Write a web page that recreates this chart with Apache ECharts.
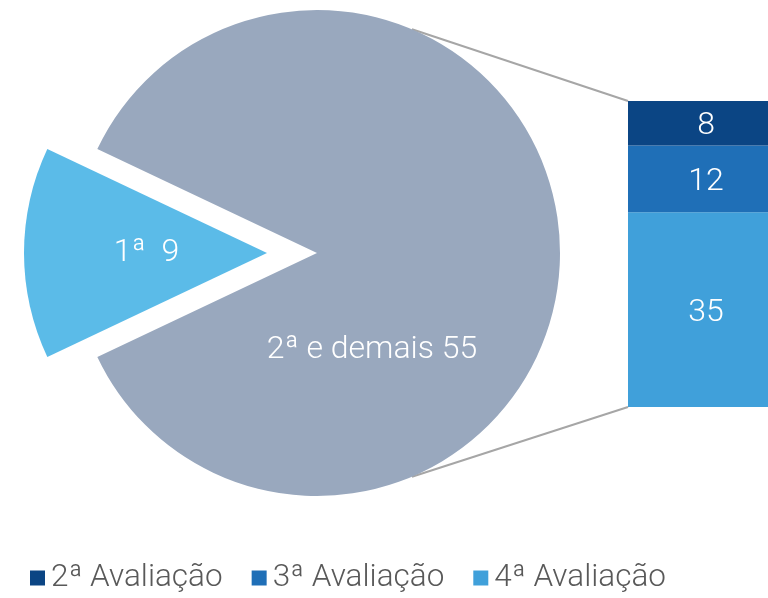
<!DOCTYPE html>
<html>
<head>
<meta charset="utf-8">
<script src="https://cdn.jsdelivr.net/npm/echarts@6/dist/echarts.min.js"></script>
<style>
  html, body { margin: 0; padding: 0; background: #fff; }
  #chart { width: 768px; height: 598px; }
</style>
</head>
<body>
<div id="chart"></div>
<script>
// pie: first evaluation vs the rest
const pieNames = ['1ª', '2ª e demais'];
const pieValues = [9, 55];
// bar: breakdown of "2ª e demais"
const barNames = ['2ª Avaliação', '3ª Avaliação', '4ª Avaliação'];
const barValues = [8, 12, 35];

const pieColors = ['#5bbbe8', '#99a8be'];
const barColors = ['#0b4584', '#1f6fb7', '#40a0da'];
const font = 'Roboto';

const pieCenter = [317, 253];
const pieRadius = 243;
const gridLeft = 628;

const chart = echarts.init(document.getElementById('chart'));

// stack from the bottom: 4ª, 3ª, 2ª
const barSeries = barNames.map((name, i) => ({
  name: name,
  type: 'bar',
  stack: 'rest',
  barWidth: '100%',
  data: [barValues[i]],
  itemStyle: {color: barColors[i]},
  label: {
    show: true,
    position: 'inside',
    offset: [8, 3],
    color: '#fff',
    fontFamily: font,
    fontWeight: 300,
    fontSize: 32
  },
  emphasis: {disabled: true}
})).reverse();

const option = {
  animation: false,
  legend: {
    data: barNames,
    left: 30,
    top: 562,
    padding: 0,
    itemWidth: 15,
    itemHeight: 15,
    itemGap: 29,
    icon: 'rect',
    textStyle: {color: '#595959', fontFamily: font, fontWeight: 300, fontSize: 31.5, padding: [0, 0, 0, 1]}
  },
  grid: {left: gridLeft, right: 0, top: 101, bottom: 191},
  xAxis: {type: 'category', data: [''], show: false},
  yAxis: {type: 'value', min: 0, max: 55, show: false},
  series: [
    {
      type: 'pie',
      center: pieCenter,
      radius: pieRadius,
      startAngle: 180 + pieValues[0] / (pieValues[0] + pieValues[1]) * 180,
      selectedMode: 'single',
      selectedOffset: 50,
      silent: true,
      data: pieNames.map((n, i) => ({
        name: n,
        value: pieValues[i],
        selected: i === 0,
        itemStyle: {color: pieColors[i]}
      })),
      label: {
        show: true,
        position: 'inside',
        formatter: p => p.dataIndex === 0 ? p.name + '  ' + p.value : p.name + ' ' + p.value,
        color: '#fff',
        fontFamily: font,
        fontWeight: 300,
        fontSize: 32
      },
      // the big slice's label sits below-right of the centre, as in the original
      labelLayout: p => p.dataIndex === 1
        ? {x: pieCenter[0] + 55, y: pieCenter[1] + 97, align: 'center', verticalAlign: 'middle'}
        : {dx: 4},
      labelLine: {show: false}
    }
  ].concat(barSeries)
};
chart.setOption(option);

// connector lines from the pie to the top/bottom of the stacked bar
const topPt = chart.convertToPixel({xAxisIndex: 0, yAxisIndex: 0}, [0, 55]);
const botPt = chart.convertToPixel({xAxisIndex: 0, yAxisIndex: 0}, [0, 0]);
const a = 67 * Math.PI / 180;
const px = pieCenter[0] + pieRadius * Math.cos(a);
chart.setOption({
  graphic: [
    {type: 'line', shape: {x1: px, y1: pieCenter[1] - pieRadius * Math.sin(a), x2: gridLeft, y2: topPt[1]},
      style: {stroke: '#a6a6a6', lineWidth: 2}, z: 0},
    {type: 'line', shape: {x1: px, y1: pieCenter[1] + pieRadius * Math.sin(a), x2: gridLeft, y2: botPt[1]},
      style: {stroke: '#a6a6a6', lineWidth: 2}, z: 0}
  ]
});
</script>
</body>
</html>
